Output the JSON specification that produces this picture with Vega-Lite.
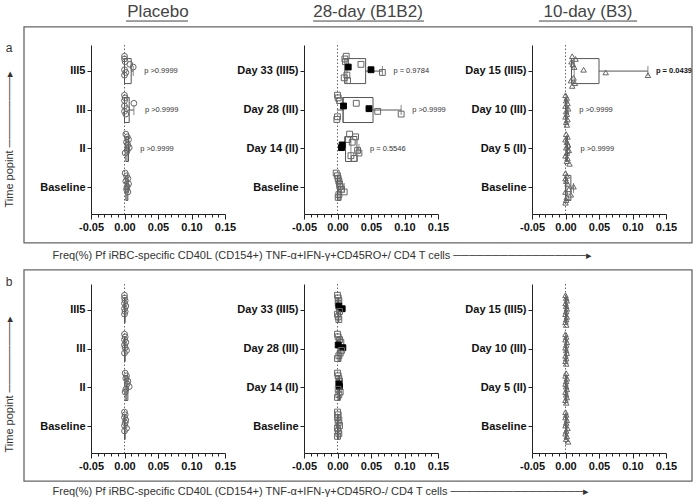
{
"$schema": "https://vega.github.io/schema/vega-lite/v6.json",
"padding": {"left": 3, "top": 2, "right": 4, "bottom": 2},
"bounds": "flush",
"columns": 3,
"spacing": {"row": 70, "column": 79},
"config": {"font": "Liberation Sans", "view": {"stroke": null}, "axis": {"grid": false}},
"datasets": {
"rows": [{"row": "a", "label": "a"}, {"row": "b", "label": "b"}],
"stats": [
{"r":"a","g":"P","t":"III5","lo":0,"q1":0,"med":0,"q3":0.010,"hi":0.013,"p":"p >0.9999"},
{"r":"a","g":"P","t":"III","lo":0,"q1":0,"med":0,"q3":0.007,"hi":0.014,"p":"p >0.9999"},
{"r":"a","g":"P","t":"II","lo":0.001,"q1":0.002,"med":0.004,"q3":0.006,"hi":0.007,"p":"p >0.9999"},
{"r":"a","g":"P","t":"Baseline","lo":0.001,"q1":0.002,"med":0.0035,"q3":0.005,"hi":0.006},
{"r":"a","g":"28","t":"Day 33 (III5)","lo":0.010,"q1":0.011,"med":0.014,"q3":0.042,"hi":0.067,"p":"p = 0.9784"},
{"r":"a","g":"28","t":"Day 28 (III)","lo":-0.001,"q1":0.008,"med":0.009,"q3":0.053,"hi":0.095,"p":"p >0.9999"},
{"r":"a","g":"28","t":"Day 14 (II)","lo":0.006,"q1":0.012,"med":0.020,"q3":0.029,"hi":0.032,"p":"p = 0.5546"},
{"r":"a","g":"28","t":"Baseline","lo":-0.002,"q1":0,"med":0.002,"q3":0.004,"hi":0.010},
{"r":"a","g":"10","t":"Day 15 (III5)","lo":0.008,"q1":0.009,"med":0.013,"q3":0.050,"hi":0.123,"p":"p = 0.0439","sig":1},
{"r":"a","g":"10","t":"Day 10 (III)","lo":0,"q1":0,"med":0.001,"q3":0.002,"hi":0.004,"p":"p >0.9999"},
{"r":"a","g":"10","t":"Day 5 (II)","lo":0,"q1":0.001,"med":0.002,"q3":0.003,"hi":0.006,"p":"p >0.9999"},
{"r":"a","g":"10","t":"Baseline","lo":0,"q1":0,"med":0.002,"q3":0.008,"hi":0.012},
{"r":"b","g":"P","t":"III5","lo":0,"q1":0,"med":0,"q3":0.001,"hi":0.002},
{"r":"b","g":"P","t":"III","lo":0,"q1":0,"med":0,"q3":0.001,"hi":0.003},
{"r":"b","g":"P","t":"II","lo":0.001,"q1":0.001,"med":0.003,"q3":0.005,"hi":0.007},
{"r":"b","g":"P","t":"Baseline","lo":0,"q1":0,"med":0,"q3":0.001,"hi":0.003},
{"r":"b","g":"28","t":"Day 33 (III5)","lo":0,"q1":0.001,"med":0.001,"q3":0.002,"hi":0.007},
{"r":"b","g":"28","t":"Day 28 (III)","lo":0,"q1":0.001,"med":0.003,"q3":0.005,"hi":0.008},
{"r":"b","g":"28","t":"Day 14 (II)","lo":0,"q1":0.001,"med":0.002,"q3":0.003,"hi":0.004},
{"r":"b","g":"28","t":"Baseline","lo":0,"q1":0,"med":0.001,"q3":0.002,"hi":0.003},
{"r":"b","g":"10","t":"Day 15 (III5)","lo":0,"q1":0,"med":0.001,"q3":0.002,"hi":0.002},
{"r":"b","g":"10","t":"Day 10 (III)","lo":0,"q1":0,"med":0.001,"q3":0.001,"hi":0.002},
{"r":"b","g":"10","t":"Day 5 (II)","lo":0,"q1":0,"med":0.001,"q3":0.002,"hi":0.002},
{"r":"b","g":"10","t":"Baseline","lo":0,"q1":0,"med":0.001,"q3":0.002,"hi":0.004}
],
"aP": [
{"t":"III5","id":1,"v":0},{"t":"III5","id":2,"v":0},{"t":"III5","id":3,"v":0.001},{"t":"III5","id":4,"v":0.008},{"t":"III5","id":5,"v":0.013},{"t":"III5","id":6,"v":0},{"t":"III5","id":7,"v":0.002},{"t":"III5","id":8,"v":0},
{"t":"III","id":1,"v":0},{"t":"III","id":2,"v":0.001},{"t":"III","id":3,"v":0},{"t":"III","id":4,"v":0.014},{"t":"III","id":5,"v":0},{"t":"III","id":6,"v":0.003},{"t":"III","id":7,"v":0},{"t":"III","id":8,"v":0.002},
{"t":"II","id":1,"v":0.002},{"t":"II","id":2,"v":0.004},{"t":"II","id":3,"v":0.006},{"t":"II","id":4,"v":0.003},{"t":"II","id":5,"v":0.005},{"t":"II","id":6,"v":0.007},{"t":"II","id":7,"v":0.004},{"t":"II","id":8,"v":0.001},
{"t":"Baseline","id":1,"v":0.001},{"t":"Baseline","id":2,"v":0.003},{"t":"Baseline","id":3,"v":0.005},{"t":"Baseline","id":4,"v":0.002},{"t":"Baseline","id":5,"v":0.006},{"t":"Baseline","id":6,"v":0.004},{"t":"Baseline","id":7,"v":0.003},{"t":"Baseline","id":8,"v":0.005}
],
"a28": [
{"t":"Day 33 (III5)","id":1,"v":0.013},{"t":"Day 33 (III5)","id":2,"v":0.011},{"t":"Day 33 (III5)","id":3,"v":0.012},{"t":"Day 33 (III5)","id":4,"v":0.035},{"t":"Day 33 (III5)","id":5,"v":0.016,"f":1},{"t":"Day 33 (III5)","id":6,"v":0.050,"f":1},{"t":"Day 33 (III5)","id":7,"v":0.067},{"t":"Day 33 (III5)","id":8,"v":0.014},{"t":"Day 33 (III5)","id":9,"v":0.010},{"t":"Day 33 (III5)","id":10,"v":0.015},
{"t":"Day 28 (III)","id":1,"v":0},{"t":"Day 28 (III)","id":2,"v":0.001},{"t":"Day 28 (III)","id":3,"v":0.003},{"t":"Day 28 (III)","id":4,"v":0.028},{"t":"Day 28 (III)","id":5,"v":0.009,"f":1},{"t":"Day 28 (III)","id":6,"v":0.047,"f":1},{"t":"Day 28 (III)","id":7,"v":0.060},{"t":"Day 28 (III)","id":8,"v":0.095},{"t":"Day 28 (III)","id":9,"v":0},{"t":"Day 28 (III)","id":10,"v":-0.001},
{"t":"Day 14 (II)","id":1,"v":0.018},{"t":"Day 14 (II)","id":2,"v":0.027},{"t":"Day 14 (II)","id":3,"v":0.015},{"t":"Day 14 (II)","id":4,"v":0.022},{"t":"Day 14 (II)","id":5,"v":0.007,"f":1},{"t":"Day 14 (II)","id":6,"v":0.006,"f":1},{"t":"Day 14 (II)","id":7,"v":0.030},{"t":"Day 14 (II)","id":8,"v":0.032},{"t":"Day 14 (II)","id":9,"v":0.020},{"t":"Day 14 (II)","id":10,"v":0.025},
{"t":"Baseline","id":1,"v":-0.002},{"t":"Baseline","id":2,"v":0},{"t":"Baseline","id":3,"v":0.001},{"t":"Baseline","id":4,"v":0.002},{"t":"Baseline","id":5,"v":0.003},{"t":"Baseline","id":6,"v":0.004},{"t":"Baseline","id":7,"v":0.006},{"t":"Baseline","id":8,"v":0.010},{"t":"Baseline","id":9,"v":0.002},{"t":"Baseline","id":10,"v":0.001}
],
"a10": [
{"t":"Day 15 (III5)","id":1,"v":0.010},{"t":"Day 15 (III5)","id":2,"v":0.015},{"t":"Day 15 (III5)","id":3,"v":0.009},{"t":"Day 15 (III5)","id":4,"v":0.011},{"t":"Day 15 (III5)","id":5,"v":0.013},{"t":"Day 15 (III5)","id":6,"v":0.027},{"t":"Day 15 (III5)","id":7,"v":0.060},{"t":"Day 15 (III5)","id":8,"v":0.123},{"t":"Day 15 (III5)","id":9,"v":0.012},{"t":"Day 15 (III5)","id":10,"v":0.008},{"t":"Day 15 (III5)","id":11,"v":0.014},{"t":"Day 15 (III5)","id":12,"v":0.010},
{"t":"Day 10 (III)","id":1,"v":0},{"t":"Day 10 (III)","id":2,"v":0.002},{"t":"Day 10 (III)","id":3,"v":0.001},{"t":"Day 10 (III)","id":4,"v":0.003},{"t":"Day 10 (III)","id":5,"v":0},{"t":"Day 10 (III)","id":6,"v":0.004},{"t":"Day 10 (III)","id":7,"v":0.001},{"t":"Day 10 (III)","id":8,"v":0.002},{"t":"Day 10 (III)","id":9,"v":0},{"t":"Day 10 (III)","id":10,"v":0.003},{"t":"Day 10 (III)","id":11,"v":0.001},{"t":"Day 10 (III)","id":12,"v":0.002},
{"t":"Day 5 (II)","id":1,"v":0.001},{"t":"Day 5 (II)","id":2,"v":0.003},{"t":"Day 5 (II)","id":3,"v":0},{"t":"Day 5 (II)","id":4,"v":0.002},{"t":"Day 5 (II)","id":5,"v":0.004},{"t":"Day 5 (II)","id":6,"v":0.001},{"t":"Day 5 (II)","id":7,"v":0.005},{"t":"Day 5 (II)","id":8,"v":0.002},{"t":"Day 5 (II)","id":9,"v":0},{"t":"Day 5 (II)","id":10,"v":0.003},{"t":"Day 5 (II)","id":11,"v":0.002},{"t":"Day 5 (II)","id":12,"v":0.006},
{"t":"Baseline","id":1,"v":0},{"t":"Baseline","id":2,"v":0.002},{"t":"Baseline","id":3,"v":0},{"t":"Baseline","id":4,"v":0.001},{"t":"Baseline","id":5,"v":0.003},{"t":"Baseline","id":6,"v":0.012},{"t":"Baseline","id":7,"v":0.005},{"t":"Baseline","id":8,"v":0},{"t":"Baseline","id":9,"v":0.008},{"t":"Baseline","id":10,"v":0.002},{"t":"Baseline","id":11,"v":0.001},{"t":"Baseline","id":12,"v":0}
],
"bP": [
{"t":"III5","id":1,"v":0},{"t":"III5","id":2,"v":0},{"t":"III5","id":3,"v":0.001},{"t":"III5","id":4,"v":0},{"t":"III5","id":5,"v":0.002},{"t":"III5","id":6,"v":0},{"t":"III5","id":7,"v":0.001},{"t":"III5","id":8,"v":0},
{"t":"III","id":1,"v":0},{"t":"III","id":2,"v":0.001},{"t":"III","id":3,"v":0},{"t":"III","id":4,"v":0.002},{"t":"III","id":5,"v":0},{"t":"III","id":6,"v":0.001},{"t":"III","id":7,"v":0.003},{"t":"III","id":8,"v":0},
{"t":"II","id":1,"v":0.001},{"t":"II","id":2,"v":0.003},{"t":"II","id":3,"v":0.002},{"t":"II","id":4,"v":0.005},{"t":"II","id":5,"v":0.004},{"t":"II","id":6,"v":0.007},{"t":"II","id":7,"v":0.002},{"t":"II","id":8,"v":0.001},
{"t":"Baseline","id":1,"v":0},{"t":"Baseline","id":2,"v":0.001},{"t":"Baseline","id":3,"v":0},{"t":"Baseline","id":4,"v":0.002},{"t":"Baseline","id":5,"v":0.001},{"t":"Baseline","id":6,"v":0},{"t":"Baseline","id":7,"v":0.003},{"t":"Baseline","id":8,"v":0}
],
"b28": [
{"t":"Day 33 (III5)","id":1,"v":0},{"t":"Day 33 (III5)","id":2,"v":0.001},{"t":"Day 33 (III5)","id":3,"v":0.002},{"t":"Day 33 (III5)","id":4,"v":0.001},{"t":"Day 33 (III5)","id":5,"v":0.002,"f":1},{"t":"Day 33 (III5)","id":6,"v":0.007,"f":1},{"t":"Day 33 (III5)","id":7,"v":0.003},{"t":"Day 33 (III5)","id":8,"v":0},{"t":"Day 33 (III5)","id":9,"v":0.001},{"t":"Day 33 (III5)","id":10,"v":0.002},
{"t":"Day 28 (III)","id":1,"v":0},{"t":"Day 28 (III)","id":2,"v":0.001},{"t":"Day 28 (III)","id":3,"v":0.003},{"t":"Day 28 (III)","id":4,"v":0.005},{"t":"Day 28 (III)","id":5,"v":0.001,"f":1},{"t":"Day 28 (III)","id":6,"v":0.008,"f":1},{"t":"Day 28 (III)","id":7,"v":0.006},{"t":"Day 28 (III)","id":8,"v":0.004},{"t":"Day 28 (III)","id":9,"v":0.002},{"t":"Day 28 (III)","id":10,"v":0},
{"t":"Day 14 (II)","id":1,"v":0},{"t":"Day 14 (II)","id":2,"v":0.001},{"t":"Day 14 (II)","id":3,"v":0.002},{"t":"Day 14 (II)","id":4,"v":0.003},{"t":"Day 14 (II)","id":5,"v":0.002,"f":1},{"t":"Day 14 (II)","id":6,"v":0.003,"f":1},{"t":"Day 14 (II)","id":7,"v":0.001},{"t":"Day 14 (II)","id":8,"v":0.004},{"t":"Day 14 (II)","id":9,"v":0.002},{"t":"Day 14 (II)","id":10,"v":0},
{"t":"Baseline","id":1,"v":0},{"t":"Baseline","id":2,"v":0.001},{"t":"Baseline","id":3,"v":0},{"t":"Baseline","id":4,"v":0.002},{"t":"Baseline","id":5,"v":0.001},{"t":"Baseline","id":6,"v":0.003},{"t":"Baseline","id":7,"v":0},{"t":"Baseline","id":8,"v":0.001},{"t":"Baseline","id":9,"v":0.002},{"t":"Baseline","id":10,"v":0}
],
"b10": [
{"t":"Day 15 (III5)","id":1,"v":0},{"t":"Day 15 (III5)","id":2,"v":0.001},{"t":"Day 15 (III5)","id":3,"v":0.002},{"t":"Day 15 (III5)","id":4,"v":0},{"t":"Day 15 (III5)","id":5,"v":0.001},{"t":"Day 15 (III5)","id":6,"v":0.002},{"t":"Day 15 (III5)","id":7,"v":0.001},{"t":"Day 15 (III5)","id":8,"v":0},{"t":"Day 15 (III5)","id":9,"v":0.002},{"t":"Day 15 (III5)","id":10,"v":0.001},{"t":"Day 15 (III5)","id":11,"v":0},{"t":"Day 15 (III5)","id":12,"v":0.001},
{"t":"Day 10 (III)","id":1,"v":0},{"t":"Day 10 (III)","id":2,"v":0.001},{"t":"Day 10 (III)","id":3,"v":0},{"t":"Day 10 (III)","id":4,"v":0.002},{"t":"Day 10 (III)","id":5,"v":0.001},{"t":"Day 10 (III)","id":6,"v":0},{"t":"Day 10 (III)","id":7,"v":0.001},{"t":"Day 10 (III)","id":8,"v":0.002},{"t":"Day 10 (III)","id":9,"v":0},{"t":"Day 10 (III)","id":10,"v":0.001},{"t":"Day 10 (III)","id":11,"v":0},{"t":"Day 10 (III)","id":12,"v":0.001},
{"t":"Day 5 (II)","id":1,"v":0.001},{"t":"Day 5 (II)","id":2,"v":0},{"t":"Day 5 (II)","id":3,"v":0.002},{"t":"Day 5 (II)","id":4,"v":0.001},{"t":"Day 5 (II)","id":5,"v":0},{"t":"Day 5 (II)","id":6,"v":0.001},{"t":"Day 5 (II)","id":7,"v":0.002},{"t":"Day 5 (II)","id":8,"v":0},{"t":"Day 5 (II)","id":9,"v":0.001},{"t":"Day 5 (II)","id":10,"v":0.002},{"t":"Day 5 (II)","id":11,"v":0},{"t":"Day 5 (II)","id":12,"v":0.001},
{"t":"Baseline","id":1,"v":0},{"t":"Baseline","id":2,"v":0.001},{"t":"Baseline","id":3,"v":0},{"t":"Baseline","id":4,"v":0.002},{"t":"Baseline","id":5,"v":0.001},{"t":"Baseline","id":6,"v":0},{"t":"Baseline","id":7,"v":0.003},{"t":"Baseline","id":8,"v":0.001},{"t":"Baseline","id":9,"v":0},{"t":"Baseline","id":10,"v":0.002},{"t":"Baseline","id":11,"v":0.001},{"t":"Baseline","id":12,"v":0.004}
]
},
"concat": [
{
"width": 134, "height": 169,
"title": {"text": "Placebo", "fontSize": 17, "fontWeight": "normal", "font": "Liberation Sans", "color": "#444", "offset": 11, "baseline": "alphabetic", "anchor": "middle", "frame": "group"},
"layer": [
{"data": {"name": "aP"}, "transform": [{"aggregate": [{"op": "count", "as": "n"}]}], "mark": {"type": "rule", "strokeDash": [1.5, 2], "color": "#666", "strokeWidth": 1},
 "encoding": {"x": {"datum": 0, "type": "quantitative", "scale": {"domain": [-0.05, 0.15], "nice": false, "zero": false}, "axis": {"orient": "bottom", "values": [-0.04,-0.03,-0.02,-0.01,0.01,0.02,0.03,0.04,0.06,0.07,0.08,0.09,0.11,0.12,0.13,0.14], "labels": false, "domain": false, "tickSize": 3, "tickColor": "#222", "title": null, "grid": false}}}},
{"data": {"name": "stats"}, "transform": [{"filter": "datum.r=='a' && datum.g=='P'"}],
 "encoding": {"y": {"field": "t", "type": "nominal", "scale": {"domain": ["III5","III","II","Baseline"], "paddingInner": 0.1, "paddingOuter": 0.22}, "axis": {"labelFont": "Liberation Sans", "labelFontSize": 11, "labelFontWeight": "bold", "labelColor": "#111", "labelPadding": 2, "tickSize": 4, "tickColor": "#222", "domainColor": "#222", "grid": false, "title": "Time popint ─────────▸", "titleX": -82, "titleY": 162, "titleAngle": 270, "titleAlign": "left", "titleBaseline": "middle", "titleFont": "Liberation Sans", "titleFontSize": 11, "titleFontWeight": "normal", "titleColor": "#333"}}},
 "layer": [
  {"mark": {"type": "bar", "size": 25, "fillOpacity": 0, "stroke": "#555", "strokeWidth": 1}, "encoding": {"x": {"field": "q1", "type": "quantitative", "scale": {"domain": [-0.05, 0.15], "nice": false, "zero": false}, "axis": null}, "x2": {"field": "q3"}}},
  {"mark": {"type": "rule", "color": "#555"}, "encoding": {"x": {"field": "q3", "type": "quantitative", "axis": null}, "x2": {"field": "hi"}}},
  {"mark": {"type": "rule", "color": "#555"}, "encoding": {"x": {"field": "lo", "type": "quantitative", "axis": null}, "x2": {"field": "q1"}}},
  {"mark": {"type": "tick", "orient": "vertical", "size": 25, "thickness": 1, "color": "#555"}, "encoding": {"x": {"field": "med", "type": "quantitative", "axis": null}}},
  {"mark": {"type": "tick", "orient": "vertical", "size": 10, "thickness": 1, "color": "#555"}, "encoding": {"x": {"field": "hi", "type": "quantitative", "axis": null}}},
  {"transform": [{"filter": "datum.p && !datum.sig"}], "mark": {"type": "text", "align": "left", "dx": 11, "fontSize": 7.5, "color": "#333"}, "encoding": {"x": {"field": "hi", "type": "quantitative", "axis": null}, "text": {"field": "p"}}}
 ]},
{"data": {"name": "aP"}, "mark": {"type": "point", "shape": "circle", "size": 34, "strokeWidth": 1, "opacity": 1},
 "encoding": {
  "y": {"field": "t", "type": "nominal", "scale": {"domain": ["III5","III","II","Baseline"], "paddingInner": 0.1, "paddingOuter": 0.22}, "axis": {"labelFont": "Liberation Sans", "labelFontSize": 11, "labelFontWeight": "bold", "labelColor": "#111", "labelPadding": 2, "tickSize": 4, "tickColor": "#222", "domainColor": "#222", "grid": false, "title": "Time popint ─────────▸", "titleX": -82, "titleY": 162, "titleAngle": 270, "titleAlign": "left", "titleBaseline": "middle", "titleFont": "Liberation Sans", "titleFontSize": 11, "titleFontWeight": "normal", "titleColor": "#333"}},
  "yOffset": {"field": "id", "type": "nominal", "scale": {"type": "point", "padding": 1.5}},
  "x": {"field": "v", "type": "quantitative", "scale": {"domain": [-0.05, 0.15], "nice": false, "zero": false}, "axis": {"orient": "bottom", "values": [-0.05, 0, 0.05, 0.1, 0.15], "labelExpr": "replace(format(datum.value,'.2f'),'−','-')", "labelFont": "Liberation Sans", "labelFontSize": 11, "labelFontWeight": "bold", "labelColor": "#111", "labelPadding": 2, "labelFlush": false, "labelOverlap": false, "tickSize": 5, "tickColor": "#222", "domainColor": "#222", "grid": false, "title": "Freq(%) Pf iRBC-specific CD40L (CD154+) TNF-α+IFN-γ+CD45RO+/ CD4 T cells   ─────────────────▸", "titleX": -39, "titleY": 41, "titleAlign": "left", "titleBaseline": "middle", "titleFont": "Liberation Sans", "titleFontSize": 11, "titleFontWeight": "normal", "titleColor": "#333"}},
  "fill": {"condition": {"test": "datum.f==1", "value": "#000"}, "value": "transparent"},
  "stroke": {"condition": {"test": "datum.f==1", "value": "#000"}, "value": "#666"}}}
],
"resolve": {"axis": {"x": "independent"}}
},
{
"width": 149, "height": 169,
"title": {"text": "28-day (B1B2)", "fontSize": 17, "fontWeight": "normal", "font": "Liberation Sans", "color": "#444", "offset": 11, "baseline": "alphabetic", "anchor": "middle", "frame": "group", "dx": -10.5},
"layer": [
{"data": {"name": "a28"}, "transform": [{"aggregate": [{"op": "count", "as": "n"}]}], "mark": {"type": "rule", "strokeDash": [1.5, 2], "color": "#666", "strokeWidth": 1},
 "encoding": {"x": {"datum": 0, "type": "quantitative", "scale": {"domain": [-0.05, 0.15], "range": [0, 134], "nice": false, "zero": false}, "axis": {"orient": "bottom", "values": [-0.04,-0.03,-0.02,-0.01,0.01,0.02,0.03,0.04,0.06,0.07,0.08,0.09,0.11,0.12,0.13,0.14], "labels": false, "domain": false, "tickSize": 3, "tickColor": "#222", "title": null, "grid": false}}}},
{"data": {"name": "stats"}, "transform": [{"filter": "datum.r=='a' && datum.g=='28'"}],
 "encoding": {"y": {"field": "t", "type": "nominal", "scale": {"domain": ["Day 33 (III5)","Day 28 (III)","Day 14 (II)","Baseline"], "paddingInner": 0.1, "paddingOuter": 0.22}, "axis": {"labelFont": "Liberation Sans", "labelFontSize": 11, "labelFontWeight": "bold", "labelColor": "#111", "labelPadding": 2, "tickSize": 4, "tickColor": "#222", "domainColor": "#222", "grid": false, "title": null}}},
 "layer": [
  {"mark": {"type": "bar", "size": 25, "fillOpacity": 0, "stroke": "#555", "strokeWidth": 1}, "encoding": {"x": {"field": "q1", "type": "quantitative", "scale": {"domain": [-0.05, 0.15], "range": [0, 134], "nice": false, "zero": false}, "axis": null}, "x2": {"field": "q3"}}},
  {"mark": {"type": "rule", "color": "#555"}, "encoding": {"x": {"field": "q3", "type": "quantitative", "axis": null}, "x2": {"field": "hi"}}},
  {"mark": {"type": "rule", "color": "#555"}, "encoding": {"x": {"field": "lo", "type": "quantitative", "axis": null}, "x2": {"field": "q1"}}},
  {"mark": {"type": "tick", "orient": "vertical", "size": 25, "thickness": 1, "color": "#555"}, "encoding": {"x": {"field": "med", "type": "quantitative", "axis": null}}},
  {"mark": {"type": "tick", "orient": "vertical", "size": 10, "thickness": 1, "color": "#555"}, "encoding": {"x": {"field": "hi", "type": "quantitative", "axis": null}}},
  {"transform": [{"filter": "datum.p && !datum.sig"}], "mark": {"type": "text", "align": "left", "dx": 11, "fontSize": 7.5, "color": "#333"}, "encoding": {"x": {"field": "hi", "type": "quantitative", "axis": null}, "text": {"field": "p"}}}
 ]},
{"data": {"name": "a28"}, "mark": {"type": "point", "shape": "square", "size": 34, "strokeWidth": 1, "opacity": 1},
 "encoding": {
  "y": {"field": "t", "type": "nominal", "scale": {"domain": ["Day 33 (III5)","Day 28 (III)","Day 14 (II)","Baseline"], "paddingInner": 0.1, "paddingOuter": 0.22}, "axis": {"labelFont": "Liberation Sans", "labelFontSize": 11, "labelFontWeight": "bold", "labelColor": "#111", "labelPadding": 2, "tickSize": 4, "tickColor": "#222", "domainColor": "#222", "grid": false, "title": null}},
  "yOffset": {"field": "id", "type": "nominal", "scale": {"type": "point", "padding": 1.5}},
  "x": {"field": "v", "type": "quantitative", "scale": {"domain": [-0.05, 0.15], "range": [0, 134], "nice": false, "zero": false}, "axis": {"orient": "bottom", "values": [-0.05, 0, 0.05, 0.1, 0.15], "labelExpr": "replace(format(datum.value,'.2f'),'−','-')", "labelFont": "Liberation Sans", "labelFontSize": 11, "labelFontWeight": "bold", "labelColor": "#111", "labelPadding": 2, "labelFlush": false, "labelOverlap": false, "tickSize": 5, "tickColor": "#222", "domainColor": "#222", "grid": false, "title": null}},
  "fill": {"condition": {"test": "datum.f==1", "value": "#000"}, "value": "transparent"},
  "stroke": {"condition": {"test": "datum.f==1", "value": "#000"}, "value": "#666"}}}
],
"resolve": {"axis": {"x": "independent"}}
},
{
"width": 134, "height": 169,
"title": {"text": "10-day (B3)", "fontSize": 17, "fontWeight": "normal", "font": "Liberation Sans", "color": "#444", "offset": 11, "baseline": "alphabetic", "anchor": "middle", "frame": "group", "dx": -11},
"layer": [
{"data": {"name": "a10"}, "transform": [{"aggregate": [{"op": "count", "as": "n"}]}], "mark": {"type": "rule", "strokeDash": [1.5, 2], "color": "#666", "strokeWidth": 1},
 "encoding": {"x": {"datum": 0, "type": "quantitative", "scale": {"domain": [-0.05, 0.15], "nice": false, "zero": false}, "axis": {"orient": "bottom", "values": [-0.04,-0.03,-0.02,-0.01,0.01,0.02,0.03,0.04,0.06,0.07,0.08,0.09,0.11,0.12,0.13,0.14], "labels": false, "domain": false, "tickSize": 3, "tickColor": "#222", "title": null, "grid": false}}}},
{"data": {"name": "stats"}, "transform": [{"filter": "datum.r=='a' && datum.g=='10'"}],
 "encoding": {"y": {"field": "t", "type": "nominal", "scale": {"domain": ["Day 15 (III5)","Day 10 (III)","Day 5 (II)","Baseline"], "paddingInner": 0.1, "paddingOuter": 0.22}, "axis": {"labelFont": "Liberation Sans", "labelFontSize": 11, "labelFontWeight": "bold", "labelColor": "#111", "labelPadding": 2, "tickSize": 4, "tickColor": "#222", "domainColor": "#222", "grid": false, "title": null}}},
 "layer": [
  {"mark": {"type": "bar", "size": 25, "fillOpacity": 0, "stroke": "#555", "strokeWidth": 1}, "encoding": {"x": {"field": "q1", "type": "quantitative", "scale": {"domain": [-0.05, 0.15], "nice": false, "zero": false}, "axis": null}, "x2": {"field": "q3"}}},
  {"mark": {"type": "rule", "color": "#555"}, "encoding": {"x": {"field": "q3", "type": "quantitative", "axis": null}, "x2": {"field": "hi"}}},
  {"mark": {"type": "rule", "color": "#555"}, "encoding": {"x": {"field": "lo", "type": "quantitative", "axis": null}, "x2": {"field": "q1"}}},
  {"mark": {"type": "tick", "orient": "vertical", "size": 25, "thickness": 1, "color": "#555"}, "encoding": {"x": {"field": "med", "type": "quantitative", "axis": null}}},
  {"mark": {"type": "tick", "orient": "vertical", "size": 10, "thickness": 1, "color": "#555"}, "encoding": {"x": {"field": "hi", "type": "quantitative", "axis": null}}},
  {"transform": [{"filter": "datum.p && !datum.sig"}], "mark": {"type": "text", "align": "left", "dx": 11, "fontSize": 7.5, "color": "#333"}, "encoding": {"x": {"field": "hi", "type": "quantitative", "axis": null}, "text": {"field": "p"}}},
  {"transform": [{"filter": "datum.sig == 1"}], "mark": {"type": "text", "align": "left", "dx": 8, "fontSize": 7.5, "fontWeight": "bold", "color": "#111"}, "encoding": {"x": {"field": "hi", "type": "quantitative", "axis": null}, "text": {"field": "p"}}}
 ]},
{"data": {"name": "a10"}, "mark": {"type": "point", "shape": "triangle-up", "size": 30, "strokeWidth": 1, "opacity": 1},
 "encoding": {
  "y": {"field": "t", "type": "nominal", "scale": {"domain": ["Day 15 (III5)","Day 10 (III)","Day 5 (II)","Baseline"], "paddingInner": 0.1, "paddingOuter": 0.22}, "axis": {"labelFont": "Liberation Sans", "labelFontSize": 11, "labelFontWeight": "bold", "labelColor": "#111", "labelPadding": 2, "tickSize": 4, "tickColor": "#222", "domainColor": "#222", "grid": false, "title": null}},
  "yOffset": {"field": "id", "type": "nominal", "scale": {"type": "point", "padding": 1.5}},
  "x": {"field": "v", "type": "quantitative", "scale": {"domain": [-0.05, 0.15], "nice": false, "zero": false}, "axis": {"orient": "bottom", "values": [-0.05, 0, 0.05, 0.1, 0.15], "labelExpr": "replace(format(datum.value,'.2f'),'−','-')", "labelFont": "Liberation Sans", "labelFontSize": 11, "labelFontWeight": "bold", "labelColor": "#111", "labelPadding": 2, "labelFlush": false, "labelOverlap": false, "tickSize": 5, "tickColor": "#222", "domainColor": "#222", "grid": false, "title": null}},
  "fill": {"value": "transparent"},
  "stroke": {"value": "#666"}}}
],
"resolve": {"axis": {"x": "independent"}}
},
{
"width": 134, "height": 169,
"layer": [
{"data": {"name": "rows"},
 "layer": [
  {"transform": [{"filter": "datum.row=='a'"}], "mark": {"type": "rect", "filled": false, "color": "#666", "strokeWidth": 1.3},
   "encoding": {"x": {"datum": -0.5, "type": "quantitative", "scale": {"domain": [0, 1], "nice": false, "zero": false}, "axis": null}, "x2": {"datum": 4.485}, "y": {"datum": 2.521, "type": "quantitative", "scale": {"domain": [0, 1], "nice": false, "zero": false}, "axis": null}, "y2": {"datum": 1.243}}},
  {"transform": [{"filter": "datum.row=='b'"}], "mark": {"type": "rect", "filled": false, "color": "#666", "strokeWidth": 1.3},
   "encoding": {"x": {"datum": -0.5, "type": "quantitative", "axis": null}, "x2": {"datum": 4.485}, "y": {"datum": 1.083, "type": "quantitative", "axis": null}, "y2": {"datum": -0.166}}},
  {"transform": [{"filter": "datum.row=='a'"}], "mark": {"type": "rule", "color": "#444", "strokeWidth": 1},
   "encoding": {"x": {"datum": 0.261, "type": "quantitative", "axis": null}, "x2": {"datum": 0.724}, "y": {"datum": 2.556, "type": "quantitative", "axis": null}}},
  {"transform": [{"filter": "datum.row=='a'"}], "mark": {"type": "rule", "color": "#444", "strokeWidth": 1},
   "encoding": {"x": {"datum": 1.657, "type": "quantitative", "axis": null}, "x2": {"datum": 2.485}, "y": {"datum": 2.556, "type": "quantitative", "axis": null}}},
  {"transform": [{"filter": "datum.row=='a'"}], "mark": {"type": "rule", "color": "#444", "strokeWidth": 1},
   "encoding": {"x": {"datum": 3.343, "type": "quantitative", "axis": null}, "x2": {"datum": 4.075}, "y": {"datum": 2.556, "type": "quantitative", "axis": null}}},
  {"transform": [{"filter": "datum.row=='a'"}], "mark": {"type": "text", "fontSize": 12, "color": "#333"},
   "encoding": {"x": {"datum": -0.612, "type": "quantitative", "axis": null}, "y": {"datum": 2.396, "type": "quantitative", "axis": null}, "text": {"field": "label"}}},
  {"transform": [{"filter": "datum.row=='b'"}], "mark": {"type": "text", "fontSize": 12, "color": "#333"},
   "encoding": {"x": {"datum": -0.612, "type": "quantitative", "axis": null}, "y": {"datum": 1.012, "type": "quantitative", "axis": null}, "text": {"field": "label"}}}
 ]},
{"layer": [
{"data": {"name": "bP"}, "transform": [{"aggregate": [{"op": "count", "as": "n"}]}], "mark": {"type": "rule", "strokeDash": [1.5, 2], "color": "#666", "strokeWidth": 1},
 "encoding": {"x": {"datum": 0, "type": "quantitative", "scale": {"domain": [-0.05, 0.15], "nice": false, "zero": false}, "axis": {"orient": "bottom", "values": [-0.04,-0.03,-0.02,-0.01,0.01,0.02,0.03,0.04,0.06,0.07,0.08,0.09,0.11,0.12,0.13,0.14], "labels": false, "domain": false, "tickSize": 3, "tickColor": "#222", "title": null, "grid": false}}}},
{"data": {"name": "stats"}, "transform": [{"filter": "datum.r=='b' && datum.g=='P'"}],
 "encoding": {"y": {"field": "t", "type": "nominal", "scale": {"domain": ["III5","III","II","Baseline"], "paddingInner": 0.1, "paddingOuter": 0.22}, "axis": {"labelFont": "Liberation Sans", "labelFontSize": 11, "labelFontWeight": "bold", "labelColor": "#111", "labelPadding": 2, "tickSize": 4, "tickColor": "#222", "domainColor": "#222", "grid": false, "title": "Time popint ─────────▸", "titleX": -82, "titleY": 168, "titleAngle": 270, "titleAlign": "left", "titleBaseline": "middle", "titleFont": "Liberation Sans", "titleFontSize": 11, "titleFontWeight": "normal", "titleColor": "#333"}}},
 "layer": [
  {"mark": {"type": "bar", "size": 25, "fillOpacity": 0, "stroke": "#555", "strokeWidth": 1}, "encoding": {"x": {"field": "q1", "type": "quantitative", "scale": {"domain": [-0.05, 0.15], "nice": false, "zero": false}, "axis": null}, "x2": {"field": "q3"}}},
  {"mark": {"type": "rule", "color": "#555"}, "encoding": {"x": {"field": "q3", "type": "quantitative", "axis": null}, "x2": {"field": "hi"}}},
  {"mark": {"type": "tick", "orient": "vertical", "size": 25, "thickness": 1, "color": "#555"}, "encoding": {"x": {"field": "med", "type": "quantitative", "axis": null}}}
 ]},
{"data": {"name": "bP"}, "mark": {"type": "point", "shape": "circle", "size": 34, "strokeWidth": 1, "opacity": 1},
 "encoding": {
  "y": {"field": "t", "type": "nominal", "scale": {"domain": ["III5","III","II","Baseline"], "paddingInner": 0.1, "paddingOuter": 0.22}, "axis": {"labelFont": "Liberation Sans", "labelFontSize": 11, "labelFontWeight": "bold", "labelColor": "#111", "labelPadding": 2, "tickSize": 4, "tickColor": "#222", "domainColor": "#222", "grid": false, "title": "Time popint ─────────▸", "titleX": -82, "titleY": 168, "titleAngle": 270, "titleAlign": "left", "titleBaseline": "middle", "titleFont": "Liberation Sans", "titleFontSize": 11, "titleFontWeight": "normal", "titleColor": "#333"}},
  "yOffset": {"field": "id", "type": "nominal", "scale": {"type": "point", "padding": 1.5}},
  "x": {"field": "v", "type": "quantitative", "scale": {"domain": [-0.05, 0.15], "nice": false, "zero": false}, "axis": {"orient": "bottom", "values": [-0.05, 0, 0.05, 0.1, 0.15], "labelExpr": "replace(format(datum.value,'.2f'),'−','-')", "labelFont": "Liberation Sans", "labelFontSize": 11, "labelFontWeight": "bold", "labelColor": "#111", "labelPadding": 2, "labelFlush": false, "labelOverlap": false, "tickSize": 5, "tickColor": "#222", "domainColor": "#222", "grid": false, "title": "Freq(%) Pf iRBC-specific CD40L (CD154+) TNF-α+IFN-γ+CD45RO-/ CD4 T cells   ─────────────────▸", "titleX": -39, "titleY": 38, "titleAlign": "left", "titleBaseline": "middle", "titleFont": "Liberation Sans", "titleFontSize": 11, "titleFontWeight": "normal", "titleColor": "#333"}},
  "fill": {"value": "transparent"},
  "stroke": {"value": "#666"}}}
],
"resolve": {"axis": {"x": "independent"}}}
],
"resolve": {"scale": {"x": "independent", "y": "independent"}}
},
{
"width": 149, "height": 169,
"layer": [
{"data": {"name": "b28"}, "transform": [{"aggregate": [{"op": "count", "as": "n"}]}], "mark": {"type": "rule", "strokeDash": [1.5, 2], "color": "#666", "strokeWidth": 1},
 "encoding": {"x": {"datum": 0, "type": "quantitative", "scale": {"domain": [-0.05, 0.15], "range": [0, 134], "nice": false, "zero": false}, "axis": {"orient": "bottom", "values": [-0.04,-0.03,-0.02,-0.01,0.01,0.02,0.03,0.04,0.06,0.07,0.08,0.09,0.11,0.12,0.13,0.14], "labels": false, "domain": false, "tickSize": 3, "tickColor": "#222", "title": null, "grid": false}}}},
{"data": {"name": "stats"}, "transform": [{"filter": "datum.r=='b' && datum.g=='28'"}],
 "encoding": {"y": {"field": "t", "type": "nominal", "scale": {"domain": ["Day 33 (III5)","Day 28 (III)","Day 14 (II)","Baseline"], "paddingInner": 0.1, "paddingOuter": 0.22}, "axis": {"labelFont": "Liberation Sans", "labelFontSize": 11, "labelFontWeight": "bold", "labelColor": "#111", "labelPadding": 2, "tickSize": 4, "tickColor": "#222", "domainColor": "#222", "grid": false, "title": null}}},
 "layer": [
  {"mark": {"type": "bar", "size": 25, "fillOpacity": 0, "stroke": "#555", "strokeWidth": 1}, "encoding": {"x": {"field": "q1", "type": "quantitative", "scale": {"domain": [-0.05, 0.15], "range": [0, 134], "nice": false, "zero": false}, "axis": null}, "x2": {"field": "q3"}}},
  {"mark": {"type": "rule", "color": "#555"}, "encoding": {"x": {"field": "q3", "type": "quantitative", "axis": null}, "x2": {"field": "hi"}}},
  {"mark": {"type": "tick", "orient": "vertical", "size": 25, "thickness": 1, "color": "#555"}, "encoding": {"x": {"field": "med", "type": "quantitative", "axis": null}}}
 ]},
{"data": {"name": "b28"}, "mark": {"type": "point", "shape": "square", "size": 34, "strokeWidth": 1, "opacity": 1},
 "encoding": {
  "y": {"field": "t", "type": "nominal", "scale": {"domain": ["Day 33 (III5)","Day 28 (III)","Day 14 (II)","Baseline"], "paddingInner": 0.1, "paddingOuter": 0.22}, "axis": {"labelFont": "Liberation Sans", "labelFontSize": 11, "labelFontWeight": "bold", "labelColor": "#111", "labelPadding": 2, "tickSize": 4, "tickColor": "#222", "domainColor": "#222", "grid": false, "title": null}},
  "yOffset": {"field": "id", "type": "nominal", "scale": {"type": "point", "padding": 1.5}},
  "x": {"field": "v", "type": "quantitative", "scale": {"domain": [-0.05, 0.15], "range": [0, 134], "nice": false, "zero": false}, "axis": {"orient": "bottom", "values": [-0.05, 0, 0.05, 0.1, 0.15], "labelExpr": "replace(format(datum.value,'.2f'),'−','-')", "labelFont": "Liberation Sans", "labelFontSize": 11, "labelFontWeight": "bold", "labelColor": "#111", "labelPadding": 2, "labelFlush": false, "labelOverlap": false, "tickSize": 5, "tickColor": "#222", "domainColor": "#222", "grid": false, "title": null}},
  "fill": {"condition": {"test": "datum.f==1", "value": "#000"}, "value": "transparent"},
  "stroke": {"condition": {"test": "datum.f==1", "value": "#000"}, "value": "#666"}}}
],
"resolve": {"axis": {"x": "independent"}}
},
{
"width": 134, "height": 169,
"layer": [
{"data": {"name": "b10"}, "transform": [{"aggregate": [{"op": "count", "as": "n"}]}], "mark": {"type": "rule", "strokeDash": [1.5, 2], "color": "#666", "strokeWidth": 1},
 "encoding": {"x": {"datum": 0, "type": "quantitative", "scale": {"domain": [-0.05, 0.15], "nice": false, "zero": false}, "axis": {"orient": "bottom", "values": [-0.04,-0.03,-0.02,-0.01,0.01,0.02,0.03,0.04,0.06,0.07,0.08,0.09,0.11,0.12,0.13,0.14], "labels": false, "domain": false, "tickSize": 3, "tickColor": "#222", "title": null, "grid": false}}}},
{"data": {"name": "stats"}, "transform": [{"filter": "datum.r=='b' && datum.g=='10'"}],
 "encoding": {"y": {"field": "t", "type": "nominal", "scale": {"domain": ["Day 15 (III5)","Day 10 (III)","Day 5 (II)","Baseline"], "paddingInner": 0.1, "paddingOuter": 0.22}, "axis": {"labelFont": "Liberation Sans", "labelFontSize": 11, "labelFontWeight": "bold", "labelColor": "#111", "labelPadding": 2, "tickSize": 4, "tickColor": "#222", "domainColor": "#222", "grid": false, "title": null}}},
 "layer": [
  {"mark": {"type": "bar", "size": 25, "fillOpacity": 0, "stroke": "#555", "strokeWidth": 1}, "encoding": {"x": {"field": "q1", "type": "quantitative", "scale": {"domain": [-0.05, 0.15], "nice": false, "zero": false}, "axis": null}, "x2": {"field": "q3"}}},
  {"mark": {"type": "rule", "color": "#555"}, "encoding": {"x": {"field": "q3", "type": "quantitative", "axis": null}, "x2": {"field": "hi"}}},
  {"mark": {"type": "tick", "orient": "vertical", "size": 25, "thickness": 1, "color": "#555"}, "encoding": {"x": {"field": "med", "type": "quantitative", "axis": null}}}
 ]},
{"data": {"name": "b10"}, "mark": {"type": "point", "shape": "triangle-up", "size": 30, "strokeWidth": 1, "opacity": 1},
 "encoding": {
  "y": {"field": "t", "type": "nominal", "scale": {"domain": ["Day 15 (III5)","Day 10 (III)","Day 5 (II)","Baseline"], "paddingInner": 0.1, "paddingOuter": 0.22}, "axis": {"labelFont": "Liberation Sans", "labelFontSize": 11, "labelFontWeight": "bold", "labelColor": "#111", "labelPadding": 2, "tickSize": 4, "tickColor": "#222", "domainColor": "#222", "grid": false, "title": null}},
  "yOffset": {"field": "id", "type": "nominal", "scale": {"type": "point", "padding": 1.5}},
  "x": {"field": "v", "type": "quantitative", "scale": {"domain": [-0.05, 0.15], "nice": false, "zero": false}, "axis": {"orient": "bottom", "values": [-0.05, 0, 0.05, 0.1, 0.15], "labelExpr": "replace(format(datum.value,'.2f'),'−','-')", "labelFont": "Liberation Sans", "labelFontSize": 11, "labelFontWeight": "bold", "labelColor": "#111", "labelPadding": 2, "labelFlush": false, "labelOverlap": false, "tickSize": 5, "tickColor": "#222", "domainColor": "#222", "grid": false, "title": null}},
  "fill": {"value": "transparent"},
  "stroke": {"value": "#666"}}}
],
"resolve": {"axis": {"x": "independent"}}
}
]
}
